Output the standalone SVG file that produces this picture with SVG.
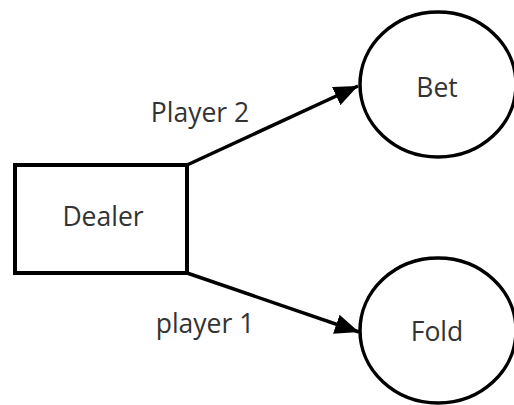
<svg xmlns="http://www.w3.org/2000/svg" width="514" height="405" viewBox="0 0 514 405">
<style>
.node{fill:#ffffff;stroke:#000000;}
.lbl{font-family:"Open Sans","Noto Sans",sans-serif;font-size:26.5px;fill:#333333;text-anchor:middle;}
.edge{stroke:#000000;stroke-width:3.5;fill:none;}
</style>
<defs>
<marker id="ah" markerUnits="userSpaceOnUse" markerWidth="26" markerHeight="20" refX="24" refY="10" orient="auto">
<path d="M0,0 L24,10 L0,20 Z" fill="#000000"/>
</marker>
</defs>
<rect width="514" height="405" fill="#ffffff"/>
<g id="dealer">
<rect class="node" x="15" y="165" width="172" height="108" stroke-width="4"/>
<text class="lbl" x="103" y="226">Dealer</text>
</g>
<g id="bet">
<ellipse class="node" cx="438" cy="84.5" rx="78" ry="72.5" stroke-width="3.5"/>
<text class="lbl" x="437" y="97">Bet</text>
</g>
<g id="fold">
<ellipse class="node" cx="438" cy="330.5" rx="78" ry="72.5" stroke-width="3.5"/>
<text class="lbl" x="437" y="341">Fold</text>
</g>
<g id="connectors">
<line class="edge" x1="187" y1="165" x2="358" y2="86" marker-end="url(#ah)"/>
<line class="edge" x1="187" y1="273" x2="359" y2="332" marker-end="url(#ah)"/>
<text class="lbl" x="200" y="122">Player 2</text>
<text class="lbl" x="205" y="333">player 1</text>
</g>
</svg>
